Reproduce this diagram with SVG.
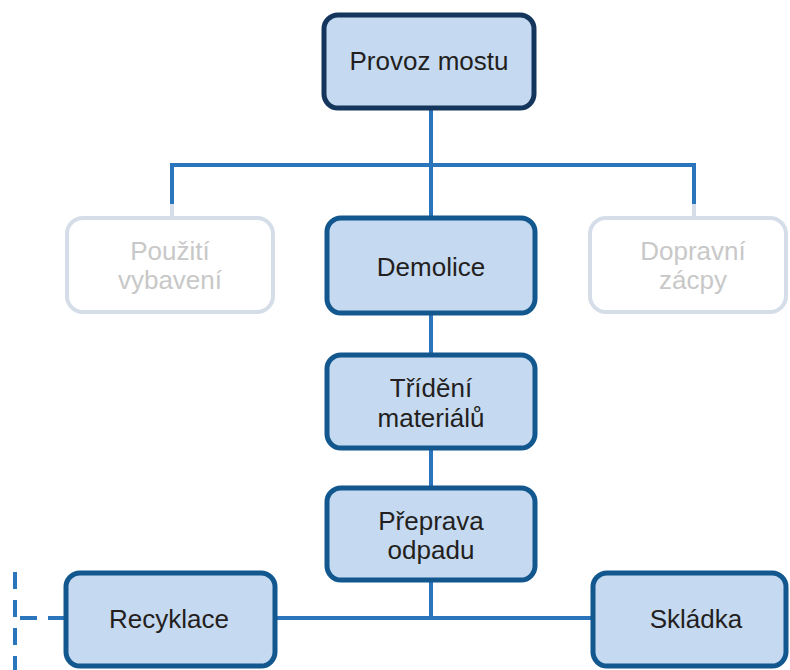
<svg xmlns="http://www.w3.org/2000/svg" width="790" height="670" viewBox="0 0 790 670">
  <style>
    .box { fill: #c5d9f0; stroke: #12578e; stroke-width: 5; }
    .top { stroke: #14365c; }
    .ghost { fill: #ffffff; stroke: #d5dee8; stroke-width: 4; }
    .lbl { font-family: "Liberation Sans", Arial, sans-serif; font-size: 26px; fill: #231f20; text-anchor: middle; }
    .glbl { fill: #c8c8c8; }
    .link { stroke: #2a75bb; stroke-width: 4; fill: none; }
    .stub { stroke: #d5dee8; stroke-width: 4; fill: none; }
    .dash { stroke: #2a75bb; stroke-width: 4; fill: none; stroke-dasharray: 17 11; }
  </style>

  <g id="connectors">
    <line class="link" x1="431" y1="108" x2="431" y2="218"/>
    <polyline class="link" points="172,204 172,165 694,165 694,204"/>
    <line class="stub" x1="172" y1="204" x2="172" y2="218"/>
    <line class="stub" x1="694" y1="204" x2="694" y2="218"/>
    <line class="link" x1="431" y1="313" x2="431" y2="355"/>
    <line class="link" x1="431" y1="448" x2="431" y2="488"/>
    <line class="link" x1="431" y1="580" x2="431" y2="618"/>
    <line class="link" x1="275" y1="618" x2="592" y2="618"/>
    <line class="dash" x1="15" y1="572" x2="15" y2="670"/>
    <line class="dash" x1="65" y1="618" x2="20" y2="618"/>
  </g>

  <g id="provoz-mostu">
    <rect class="box top" x="324" y="15" width="210" height="93" rx="14"/>
    <text class="lbl" x="429" y="70">Provoz mostu</text>
  </g>

  <g id="pouziti-vybaveni">
    <rect class="ghost" x="67" y="218" width="206" height="94" rx="16"/>
    <text class="lbl glbl" x="170" y="260">Použití</text>
    <text class="lbl glbl" x="170" y="289">vybavení</text>
  </g>

  <g id="demolice">
    <rect class="box" x="327" y="218" width="208" height="95" rx="14"/>
    <text class="lbl" x="431" y="276">Demolice</text>
  </g>

  <g id="dopravni-zacpy">
    <rect class="ghost" x="590" y="218" width="196" height="94" rx="16"/>
    <text class="lbl glbl" x="693" y="260">Dopravní</text>
    <text class="lbl glbl" x="693" y="289">zácpy</text>
  </g>

  <g id="trideni-materialu">
    <rect class="box" x="327" y="355" width="208" height="93" rx="14"/>
    <text class="lbl" x="431" y="397">Třídění</text>
    <text class="lbl" x="431" y="427">materiálů</text>
  </g>

  <g id="preprava-odpadu">
    <rect class="box" x="327" y="488" width="208" height="92" rx="14"/>
    <text class="lbl" x="431" y="530">Přeprava</text>
    <text class="lbl" x="431" y="559">odpadu</text>
  </g>

  <g id="recyklace">
    <rect class="box" x="66" y="573" width="209" height="93" rx="14"/>
    <text class="lbl" x="169" y="628">Recyklace</text>
  </g>

  <g id="skladka">
    <rect class="box" x="593" y="573" width="193" height="93" rx="14"/>
    <text class="lbl" x="696" y="628">Skládka</text>
  </g>
</svg>
